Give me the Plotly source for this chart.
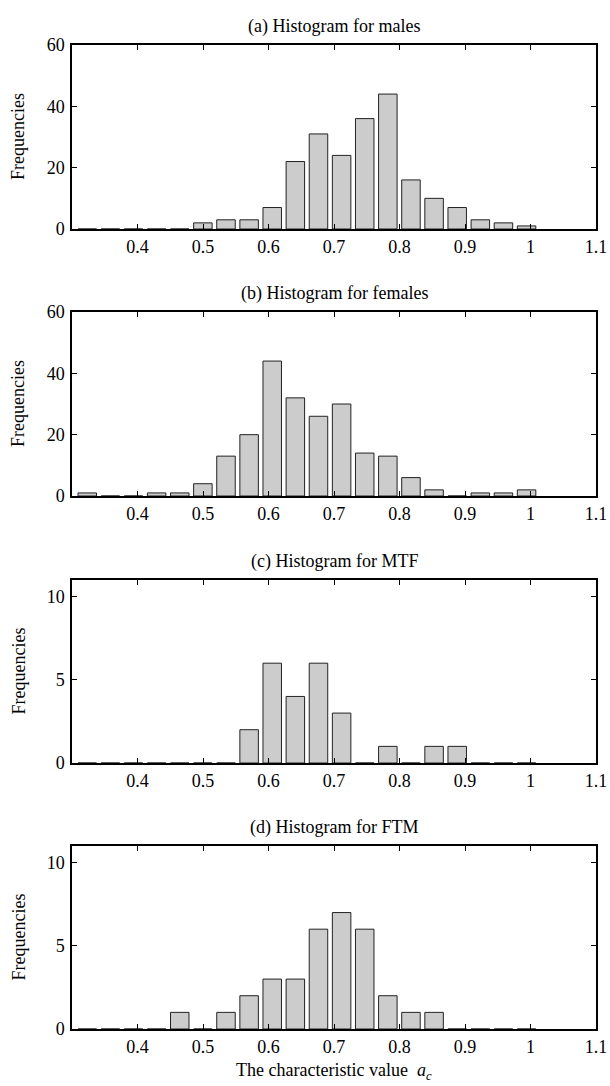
import plotly.graph_objects as go

# Bin centres of the 20-bin histogram (characteristic value a_c)
bin_centers = [0.3233, 0.3586, 0.3939, 0.4292, 0.4645, 0.4998, 0.5351, 0.5704,
               0.6057, 0.6410, 0.6763, 0.7116, 0.7469, 0.7822, 0.8175, 0.8528,
               0.8881, 0.9234, 0.9587, 0.9940]

males = [0, 0, 0, 0, 0, 2, 3, 3, 7, 22, 31, 24, 36, 44, 16, 10, 7, 3, 2, 1]
females = [1, 0, 0, 1, 1, 4, 13, 20, 44, 32, 26, 30, 14, 13, 6, 2, 0, 1, 1, 2]
mtf = [0, 0, 0, 0, 0, 0, 0, 2, 6, 4, 6, 3, 0, 1, 0, 1, 1, 0, 0, 0]
ftm = [0, 0, 0, 0, 1, 0, 1, 2, 3, 3, 6, 7, 6, 2, 1, 1, 0, 0, 0, 0]

titles = ["(a) Histogram for males", "(b) Histogram for females",
          "(c) Histogram for MTF", "(d) Histogram for FTM"]
series = [males, females, mtf, ftm]
y_ranges = [[0, 60], [0, 60], [0, 11], [0, 11]]
y_ticks = [[0, 20, 40, 60], [0, 20, 40, 60], [0, 5, 10], [0, 5, 10]]
x_ticks = [0.4, 0.5, 0.6, 0.7, 0.8, 0.9, 1.0, 1.1]
x_ticklabels = ["0.4", "0.5", "0.6", "0.7", "0.8", "0.9", "1", "1.1"]
y_title = "Frequencies"
x_title = "The characteristic value  <i>a<sub>c</sub></i>"

W, H = 610, 1086
L, R = 72, 14
# panel pixel extents (top, bottom)
panels_px = [(45, 229), (312, 496), (580, 763), (846, 1029)]

FONT = "Liberation Serif"
FS = 18
fnt = dict(family=FONT, size=FS, color="black")

fig = go.Figure()

for i, (vals, title) in enumerate(zip(series, titles)):
    ax = "" if i == 0 else str(i + 1)
    fig.add_trace(go.Bar(
        x=bin_centers, y=vals, xaxis="x" + ax, yaxis="y" + ax,
        marker=dict(color="#cccccc", line=dict(color="#222222", width=1)),
        showlegend=False, hoverinfo="skip",
    ))
    top, bot = panels_px[i]
    dom = [1 - bot / H, 1 - top / H]
    common = dict(showline=True, linecolor="black", linewidth=1.5, mirror="ticks",
                  ticks="inside", ticklen=5, tickcolor="black", tickwidth=1,
                  showgrid=False, zeroline=False, automargin=False,
                  tickfont=fnt)
    fig.layout["xaxis" + ax] = dict(
        anchor="y" + ax, domain=[0, 1], range=[0.3, 1.1],
        tickvals=x_ticks, ticktext=x_ticklabels, ticklabelstandoff=1, **common)
    fig.layout["yaxis" + ax] = dict(
        anchor="x" + ax, domain=dom, range=y_ranges[i], tickvals=y_ticks[i],
        ticklabelstandoff=2, **common)
    # panel title
    fig.add_annotation(text=title, xref="paper", yref="paper", x=0.5,
                       y=1 - (top - 19) / H, yanchor="middle", showarrow=False,
                       font=fnt)
    # y-axis title
    fig.add_annotation(text=y_title, xref="paper", yref="paper", x=0, xshift=-L + 18,
                       y=1 - (top + bot) / 2 / H, textangle=-90, showarrow=False,
                       xanchor="center", yanchor="middle", font=fnt)

fig.add_annotation(text=x_title, xref="paper", yref="paper", x=0.5,
                   y=1 - 1071 / H, yanchor="middle", showarrow=False, font=fnt)

fig.update_layout(
    template="none",
    width=W, height=H, margin=dict(l=L, r=R, t=0, b=0),
    plot_bgcolor="white", paper_bgcolor="white", bargap=0.2,
    font=fnt,
)

# remove the default page margin so the 610x1086 figure fills the window exactly
fig.write_html("out.html", config={"displayModeBar": False},
               post_script="document.body.style.margin='0';"
                           "document.body.style.overflow='hidden';")
